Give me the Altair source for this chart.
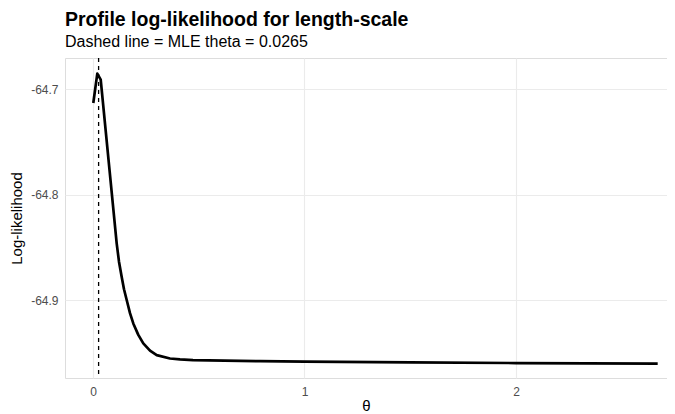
import altair as alt
import pandas as pd

# Profile log-likelihood curve
theta = [0.0014, 0.0203, 0.0364, 0.1121, 0.1229,
         0.1357, 0.1466, 0.1593, 0.1749, 0.1905, 0.2142, 0.2378, 0.2695, 0.3012,
         0.3641, 0.4113, 0.473, 0.79, 1.0, 1.5, 2.0, 2.67]
loglik = [-64.7130, -64.6851, -64.6908, -64.8464, -64.8636,
          -64.8781, -64.8898, -64.9000, -64.9125, -64.9222,
          -64.9331, -64.9412, -64.9480, -64.9523, -64.9555, -64.9564, -64.9570,
          -64.9580, -64.9585, -64.9592, -64.9598, -64.9603]
mle_theta = [0.0265]
x_ticks = [0, 1, 2]
y_ticks = [-64.9, -64.8, -64.7]

df = pd.DataFrame({"theta": theta, "loglik": loglik})
mle = pd.DataFrame({"theta": mle_theta})

FONT = "Liberation Sans"
x_scale = alt.Scale(domain=[-0.1324, 2.714], nice=False, zero=False)
y_scale = alt.Scale(domain=[-64.974, -64.6703], nice=False, zero=False)

x_axis = alt.Axis(values=x_ticks, title="θ", labelExpr="format(datum.value, 'd')",
                  grid=True, gridColor="#EBEBEB", gridWidth=1.1, domain=False,
                  ticks=False, tickSize=0, labelPadding=8, labelFontSize=12,
                  labelColor="#4D4D4D", titleFontSize=15, titleFontWeight="normal",
                  titleColor="black", titlePadding=1, labelFont=FONT, titleFont=FONT)
y_axis = alt.Axis(values=y_ticks, title="Log-likelihood",
                  labelExpr="replace(format(datum.value, '.1f'), '\u2212', '-')",
                  grid=True, gridColor="#EBEBEB", gridWidth=1.1, domain=False,
                  ticks=False, tickSize=0, labelPadding=7, labelFontSize=12,
                  labelColor="#4D4D4D", titleFontSize=15, titleFontWeight="normal",
                  titleColor="black", titlePadding=6, labelFont=FONT, titleFont=FONT)

line = alt.Chart(df).mark_line(color="black", strokeWidth=2.7, strokeJoin="round",
                               strokeCap="butt").encode(
    x=alt.X("theta:Q", scale=x_scale, axis=x_axis),
    y=alt.Y("loglik:Q", scale=y_scale, axis=y_axis),
)

vline = alt.Chart(mle).mark_rule(color="black", strokeWidth=1.3, strokeDash=[4, 4]).encode(
    x=alt.X("theta:Q", scale=x_scale),
)

chart = alt.layer(vline, line).properties(
    width=602,
    height=320,
    title=alt.TitleParams(
        text="Profile log-likelihood for length-scale",
        subtitle="Dashed line = MLE theta = 0.0265",
        anchor="start", frame="group", font=FONT, fontSize=19.5, fontWeight="bold",
        color="black", subtitleFont=FONT, subtitleFontSize=16, subtitleColor="black",
        subtitlePadding=4, offset=6,
    ),
    autosize=alt.AutoSizeParams(type="none"),
    padding={"left": 57, "top": 50, "right": 0, "bottom": 35},
).configure_view(stroke=None).configure(background="white")

chart.save("out.html", embed_options={"renderer": "svg", "actions": False})
